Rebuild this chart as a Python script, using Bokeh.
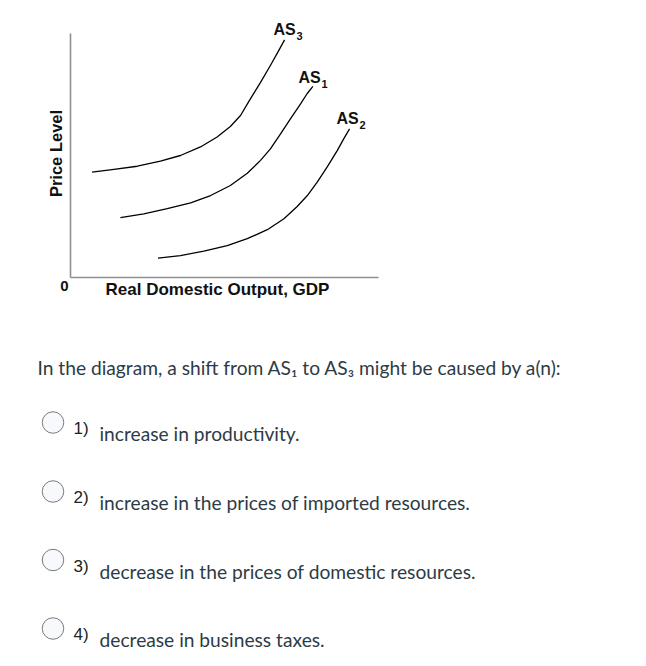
import math
from bokeh.plotting import figure
from bokeh.models import Range1d
from bokeh.core.properties import value
from bokeh.embed import file_html
from bokeh.resources import INLINE

# ---- data ----
as3_x = [0.70, 1.41, 2.17, 2.92, 3.57, 4.22, 4.76, 5.19, 5.52, 5.84, 6.17, 6.49, 6.76, 6.95]
as3_y = [4.32, 4.43, 4.56, 4.77, 5.00, 5.35, 5.76, 6.19, 6.64, 7.32, 8.00, 8.69, 9.30, 9.74]
as1_x = [1.62, 2.38, 3.14, 3.90, 4.55, 5.19, 5.74, 6.17, 6.49, 6.82, 7.14, 7.47, 7.68, 7.87]
as1_y = [2.45, 2.61, 2.82, 3.06, 3.36, 3.77, 4.27, 4.80, 5.27, 5.89, 6.50, 7.12, 7.53, 7.83]
as2_x = [2.84, 3.57, 4.33, 5.09, 5.74, 6.39, 6.93, 7.36, 7.69, 8.01, 8.33, 8.66, 8.87, 9.06]
as2_y = [0.79, 0.90, 1.08, 1.31, 1.59, 1.96, 2.41, 2.91, 3.36, 3.91, 4.52, 5.20, 5.68, 6.09]
curve_names = ["AS", "AS", "AS"]
curve_subscripts = ["3", "1", "2"]
x_label = "Real Domestic Output, GDP"
y_label = "Price Level"
origin_label = "0"

question = "In the diagram, a shift from AS\u2081 to AS\u2083 might be caused by a(n):"
option_numbers = ["1)", "2)", "3)", "4)"]
option_texts = [
    "increase in productivity.",
    "increase in the prices of imported resources.",
    "decrease in the prices of domestic resources.",
    "decrease in business taxes.",
]

# ---- layout helpers: window pixels -> data units ----
W, H = 646, 666
OX, OY = 70, 277          # origin of the diagram in the window
SX, SY = 30.8, 24.4       # pixels per data unit


def dx(px):
    return (px - OX) / SX


def dy(py):
    return (OY - py) / SY


p = figure(width=W, height=H, output_backend="svg", toolbar_location=None,
           x_range=Range1d(dx(0), dx(W)), y_range=Range1d(dy(H), dy(0)),
           min_border=0)
p.outline_line_color = None
p.grid.visible = False
p.axis.visible = False
p.background_fill_color = "white"
p.border_fill_color = "white"

# axes of the diagram (0..10 in both directions)
p.segment(x0=[0, 0], y0=[0, 0], x1=[10, 0], y1=[0, 10],
          line_color="#8f8f8f", line_width=1.6)

# supply curves
for xs, ys in ((as3_x, as3_y), (as1_x, as1_y), (as2_x, as2_y)):
    p.line(xs, ys, line_color="black", line_width=1.3, line_join="round")

LAB = value("Liberation Sans")
# curve labels: AS + subscript
lab_left = [dx(273), dx(298), dx(336)]
lab_base = [dy(29), dy(77), dy(118)]
p.text(x=lab_left, y=lab_base, text=curve_names, text_font=LAB,
       text_font_style="bold", text_font_size="16px", text_color="#111111",
       text_align="left", text_baseline="alphabetic")
sub_left = [dx(296), dx(321), dx(359)]
sub_base = [dy(35), dy(83), dy(124)]
p.text(x=sub_left, y=sub_base, text=curve_subscripts, text_font=LAB,
       text_font_style="bold", text_font_size="11px", text_color="#111111",
       text_align="left", text_baseline="alphabetic")

# axis titles and origin
p.text(x=[dx(217)], y=[dy(289)], text=[x_label], text_font=LAB,
       text_font_style="bold", text_font_size="17px", text_color="#111111",
       text_align="center", text_baseline="middle")
p.text(x=[dx(55)], y=[dy(153)], text=[y_label], text_font=LAB, angle=math.pi / 2,
       text_font_style="bold", text_font_size="16.5px", text_color="#111111",
       text_align="center", text_baseline="middle")
p.text(x=[dx(64)], y=[dy(285)], text=[origin_label], text_font=LAB,
       text_font_style="bold", text_font_size="15px", text_color="#111111",
       text_align="center", text_baseline="middle")

# ---- question ----
LATO = value("Lato")
p.text(x=[dx(37)], y=[dy(367)], text=[question], text_font=LATO,
       text_font_size="19.2px", text_color="#2d3b45", text_baseline="alphabetic")

circle_c = [422, 491, 559.5, 628]
p.scatter(x=[dx(52.5)] * 4, y=[dy(c) for c in circle_c], size=21.5, marker="circle",
          fill_color="#f8f9fc", line_color="#7a7a7a", line_width=1)
p.text(x=[dx(73)] * 4, y=[dy(c + 6) for c in circle_c], text=option_numbers,
       text_font=LAB, text_font_size="17px", text_color="#222222",
       text_baseline="alphabetic")
p.text(x=[dx(99)] * 4, y=[dy(c + 11) for c in circle_c], text=option_texts,
       text_font=LATO, text_font_size="19.2px", text_color="#2d3b45",
       text_baseline="alphabetic")

open("out.html", "w").write(file_html(p, INLINE))
